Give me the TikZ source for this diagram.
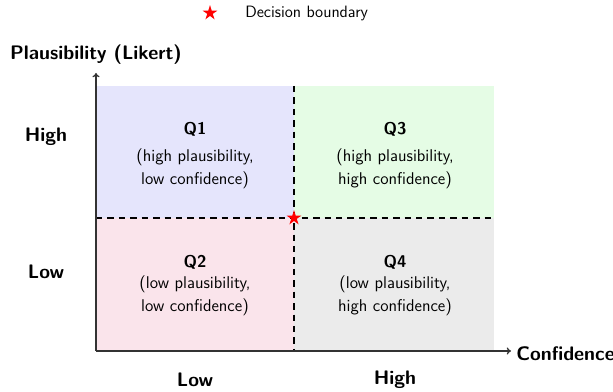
\documentclass[tikz,border=0pt]{standalone}
\usetikzlibrary{shapes.geometric,arrows.meta}
\definecolor{qpink}{RGB}{250,228,235}
\definecolor{qblue}{RGB}{229,229,252}
\definecolor{qgreen}{RGB}{229,252,229}
\definecolor{qgray}{RGB}{235,235,235}
\begin{document}
\begin{tikzpicture}[x=0.7pt,y=-0.7pt,font=\sffamily,
  qtext/.style={align=center,font=\fontsize{11.9}{16}\sffamily,inner sep=0pt},
  qtitle/.style={font=\fontsize{11.9}{14}\sffamily\bfseries,inner sep=0pt},
  axlab/.style={font=\fontsize{13.7}{16}\sffamily\bfseries,inner sep=0pt},
  divider/.style={line width=1.2pt,dash pattern=on 4.5pt off 3.5pt},
  axis/.style={line width=0.9pt,black!80,-{To[length=3pt,width=5pt]}},
  starmark/.style={star,star points=5,star point ratio=2.7,fill=red,inner sep=0pt,minimum size=11pt}]
\useasboundingbox (0,0) rectangle (613,392);
% quadrants
\fill[qblue] (96,86) rectangle (294,218);
\fill[qgreen] (294,86) rectangle (494,218);
\fill[qpink] (96,218) rectangle (294,351);
\fill[qgray] (294,218) rectangle (494,351);
% dividers
\coordinate (vtop) at (294,86);
\coordinate (vbot) at (294,351);
\coordinate (hl) at (96,218);
\coordinate (hr) at (494,218);
\draw[divider] (vtop) -- (vbot);
\draw[divider] (hl) -- (hr);
% axes
\coordinate (o) at (96,351);
\coordinate (xend) at (511,351);
\coordinate (yend) at (96,73);
\draw[axis] (o) -- (xend);
\draw[axis] (o) -- (yend);
% decision boundary
\node[starmark] (db) at (294,218) {};
% quadrant texts
\node[qtitle] (q1t) at (195,129) {Q1};
\node[qtext] (q1) at (195,169) {(high plausibility,\\low confidence)};
\node[qtitle] (q3t) at (395,129) {Q3};
\node[qtext] (q3) at (395,169) {(high plausibility,\\high confidence)};
\node[qtitle] (q2t) at (195,262) {Q2};
\node[qtext] (q2) at (195,296) {(low plausibility,\\low confidence)};
\node[qtitle] (q4t) at (395,262) {Q4};
\node[qtext] (q4) at (395,296) {(low plausibility,\\high confidence)};
% axis labels
\node[axlab] (ylab) at (96,55) {Plausibility (Likert)};
\node[axlab,anchor=west] (xlab) at (516,354) {Confidence};
\node[axlab] (yhigh) at (46,137) {High};
\node[axlab] (ylow) at (46,272) {Low};
\node[axlab] (xlow) at (195,380) {Low};
\node[axlab] (xhigh) at (395,380) {High};
% legend
\node[starmark] (lstar) at (210,13) {};
\node[anchor=west,inner sep=0pt,font=\fontsize{11.5}{14}\sffamily] (ltext) at (245,13) {Decision boundary};
\end{tikzpicture}
\end{document}
